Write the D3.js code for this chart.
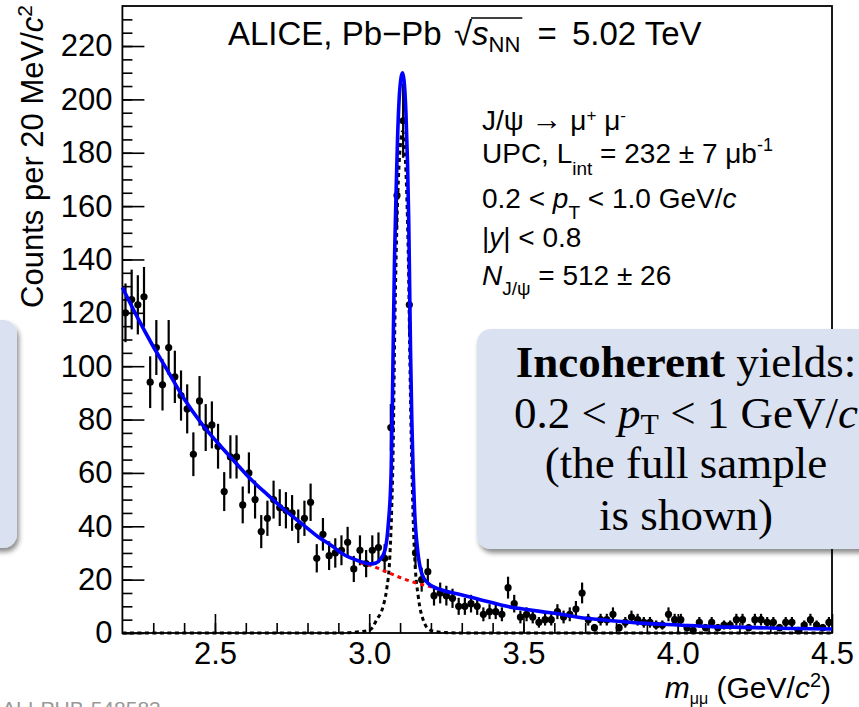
<!DOCTYPE html>
<html>
<head>
<meta charset="utf-8">
<script src="https://cdn.jsdelivr.net/npm/d3@7"></script>
<style>
  body { margin: 0; background: #fff; }
  svg { display: block; }
  text { white-space: pre; }
</style>
</head>
<body>
<div id="chart"></div>
<script>
// bin centres of the 20 MeV/c^2 histogram
const massBins = [
    2.21, 2.23, 2.25, 2.27, 2.29, 2.31, 2.33, 2.35, 2.37, 2.39,
    2.41, 2.43, 2.45, 2.47, 2.49, 2.51, 2.53, 2.55, 2.57, 2.59,
    2.61, 2.63, 2.65, 2.67, 2.69, 2.71, 2.73, 2.75, 2.77, 2.79,
    2.81, 2.83, 2.85, 2.87, 2.89, 2.91, 2.93, 2.95, 2.97, 2.99,
    3.01, 3.03, 3.05, 3.07, 3.09, 3.11, 3.13, 3.15, 3.17, 3.19,
    3.21, 3.23, 3.25, 3.27, 3.29, 3.31, 3.33, 3.35, 3.37, 3.39,
    3.41, 3.43, 3.45, 3.47, 3.49, 3.51, 3.53, 3.55, 3.57, 3.59,
    3.61, 3.63, 3.65, 3.67, 3.69, 3.71, 3.73, 3.75, 3.77, 3.79,
    3.81, 3.83, 3.85, 3.87, 3.89, 3.91, 3.93, 3.95, 3.97, 3.99,
    4.01, 4.03, 4.05, 4.07, 4.09, 4.11, 4.13, 4.15, 4.17, 4.19,
    4.21, 4.23, 4.25, 4.27, 4.29, 4.31, 4.33, 4.35, 4.37, 4.39,
    4.41, 4.43, 4.45, 4.47, 4.49
];

const counts = [
    120, 125, 123, 126, 94, 107, 93, 107, 96, 89,
    84, 67, 87, 77, 78, 70, 53, 66, 66, 48,
    60, 50, 38, 43, 50, 47, 46, 45, 40, 43,
    49, 28, 37, 29, 30, 31, 34, 24, 31, 26,
    31, 32, 28, 77, 164, 192, 123, 30, 20, 23,
    14, 15, 14, 13, 10, 10, 11, 10, 7, 8,
    8, 7, 17, 11, 6, 7, 6, 4, 5, 5,
    8, 6, 7, 9, 15, 5, 2, 5, 5, 7,
    2, 4, 6, 5, 4, 4, 3, 3, 7, 5,
    5, 2, 1, 4, 2, 4, 2, 3, 3, 5,
    5, 2, 5, 5, 4, 4, 2, 4, 4, 1,
    3, 5, 3, 2, 4
];

const countErrors = [
    11.0, 11.2, 11.1, 11.2, 9.7, 10.3, 9.6, 10.3, 9.8, 9.4,
    9.2, 8.2, 9.3, 8.8, 8.8, 8.4, 7.3, 8.1, 8.1, 6.9,
    7.7, 7.1, 6.2, 6.6, 7.1, 6.9, 6.8, 6.7, 6.3, 6.6,
    7.0, 5.3, 6.1, 5.4, 5.5, 5.6, 5.8, 4.9, 5.6, 5.1,
    5.6, 5.7, 5.3, 8.8, 12.8, 13.9, 11.1, 5.5, 4.5, 4.8,
    3.7, 3.9, 3.7, 3.6, 3.2, 3.2, 3.3, 3.2, 2.6, 2.8,
    2.8, 2.6, 4.1, 3.3, 2.4, 2.6, 2.4, 2.0, 2.2, 2.2,
    2.8, 2.4, 2.6, 3.0, 3.9, 2.2, 1.4, 2.2, 2.2, 2.6,
    1.4, 2.0, 2.4, 2.2, 2.0, 2.0, 1.7, 1.7, 2.6, 2.2,
    2.2, 1.4, 1.0, 2.0, 1.4, 2.0, 1.4, 1.7, 1.7, 2.2,
    2.2, 1.4, 2.2, 2.2, 2.0, 2.0, 1.4, 2.0, 2.0, 1.0,
    1.7, 2.2, 1.7, 1.4, 2.0
];

// fit curves: [mass, counts]
const fitTotal = [
    [2.20, 129.5], [2.25, 118], [2.294, 108.6], [2.348, 98], [2.402, 87.4],
    [2.456, 78.6], [2.51, 71.1], [2.564, 64.2], [2.618, 57.4], [2.672, 51.7],
    [2.726, 46.1], [2.78, 41.1], [2.834, 36.1], [2.882, 32.4], [2.911, 29.9],
    [2.964, 27.1], [3.005, 25.9], [3.022, 26.2], [3.035, 27.5], [3.051, 31],
    [3.062, 41], [3.071, 60], [3.075, 85], [3.078, 110], [3.082, 140],
    [3.087, 165], [3.092, 186], [3.097, 200], [3.103, 208], [3.108, 210],
    [3.113, 207], [3.119, 195], [3.124, 177], [3.128, 155], [3.131, 130],
    [3.134, 105], [3.138, 80], [3.142, 62], [3.147, 46], [3.157, 31],
    [3.170, 22.4], [3.191, 18.6], [3.235, 16.1], [3.288, 14.6], [3.343, 13],
    [3.397, 11.4], [3.45, 9.9], [3.505, 8.9], [3.559, 8], [3.613, 7.2],
    [3.677, 5.9], [3.786, 4.6], [3.893, 3.6], [4.001, 3.0], [4.11, 2.4],
    [4.217, 2.1], [4.325, 1.8], [4.5, 1.5]
];

const fitSignal = [
    [2.20, 0], [2.90, 0], [2.96, 0.4], [3.002, 1.1], [3.024, 4.9],
    [3.045, 10], [3.056, 16], [3.067, 29], [3.073, 47], [3.078, 72],
    [3.082, 108], [3.087, 140], [3.092, 162], [3.097, 176], [3.103, 185],
    [3.108, 188], [3.113, 185], [3.119, 173], [3.124, 155], [3.128, 133],
    [3.131, 108], [3.135, 80], [3.139, 58], [3.143, 41], [3.148, 27],
    [3.159, 13.6], [3.175, 4.9], [3.197, 1.1], [3.23, 0.3], [3.30, 0],
    [4.50, 0]
];

const fitBackground = [
    [2.97, 26.3], [3.0, 25.5], [3.05, 23.2], [3.1, 20.8], [3.15, 18.8],
    [3.2, 17.3], [3.235, 16.2]
];

const yMajorTicks = [0, 20, 40, 60, 80, 100, 120, 140, 160, 180, 200, 220];
const xMajorTicks = [2.5, 3.0, 3.5, 4.0, 4.5];

const infoLines = [
    [{t: 'J/ψ '}, {t: '→', size: 31}, {t: ' μ'}, {t: '+', dy: -9, size: 17}, {t: ' μ'}, {t: '-', dy: -9, size: 17}],
    [{t: 'UPC, L'}, {t: 'int', dy: 12, size: 19}, {t: ' = 232 ± 7 μb'}, {t: '-1', dy: -12, size: 18}],
    [{t: '0.2 < '}, {t: 'p', it: true}, {t: 'T', dy: 11, size: 19}, {t: ' < 1.0 GeV/'}, {t: 'c', it: true}],
    [{t: '|'}, {t: 'y', it: true}, {t: '| < 0.8'}],
    [{t: 'N', it: true}, {t: 'J/ψ', dy: 10, size: 19}, {t: ' = 512 ± 26'}]
];
const infoBaselines = [130, 163, 208, 246.5, 285];

const boxLines = [
    [{t: 'Incoherent', b: true}, {t: ' yields:'}],
    [{t: '0.2 < '}, {t: 'p', it: true}, {t: 'T', dy: 6, size: 30}, {t: ' < 1 GeV/'}, {t: 'c', it: true}],
    [{t: '(the full sample'}],
    [{t: 'is shown)'}]
];
const boxBaselines = [377, 428, 478, 530];

const W = 859, H = 707;
const plot = {left: 122.4, right: 832, top: 6, bottom: 633};
const SANS = 'Liberation Sans, Arial, Helvetica, sans-serif';
const SERIF = 'Liberation Serif, Times New Roman, serif';

const svg = d3.select('#chart').append('svg')
    .attr('width', W)
    .attr('height', H);

const xScale = d3.scaleLinear().domain([2.2, 4.5]).range([plot.left, plot.right]);
const yScale = d3.scaleLinear().domain([0, 235]).range([plot.bottom, plot.top]);

// text with sub/superscript pieces
function richText(parent, parts, opts) {
    const text = parent.append('text')
        .attr('x', opts.x)
        .attr('y', opts.y)
        .attr('font-family', opts.font)
        .attr('font-size', opts.size)
        .attr('text-anchor', opts.anchor || 'start')
        .attr('fill', opts.fill || '#000');
    if (opts.transform) text.attr('transform', opts.transform);
    let shift = 0;
    parts.forEach(function (p) {
        const target = p.dy || 0;
        const span = text.append('tspan').attr('dy', target - shift).text(p.t);
        shift = target;
        if (p.dx) span.attr('dx', p.dx);
        if (p.size) span.attr('font-size', p.size);
        if (p.it) span.attr('font-style', 'italic');
        if (p.b) span.attr('font-weight', 'bold');
    });
    return text;
}

const defs = svg.append('defs');
const shadow = defs.append('filter').attr('id', 'shadow')
    .attr('x', '-10%').attr('y', '-10%').attr('width', '130%').attr('height', '130%');
shadow.append('feDropShadow')
    .attr('dx', 2).attr('dy', 4).attr('stdDeviation', 2.5)
    .attr('flood-color', '#000').attr('flood-opacity', 0.45);

// frame
svg.append('rect')
    .attr('x', plot.left).attr('y', plot.top)
    .attr('width', plot.right - plot.left).attr('height', plot.bottom - plot.top)
    .attr('fill', 'none').attr('stroke', '#000').attr('stroke-width', 1.8);

// axes
const yAxis = d3.axisLeft(yScale).tickValues(yMajorTicks).tickSize(-22).tickPadding(10);
const yMinor = d3.axisLeft(yScale).tickValues(d3.range(0, 235, 5)).tickSize(-10).tickFormat('');
const xAxis = d3.axisBottom(xScale).tickValues(xMajorTicks).tickSize(-19).tickPadding(9)
    .tickFormat(d3.format('.1f'));
const xMinor = d3.axisBottom(xScale).tickValues(d3.range(2.3, 4.45, 0.1)).tickSize(-10).tickFormat('');

// d3 sets font-size 10 on the group itself, so override afterwards
function styleAxis(g) {
    g.attr('font-family', SANS).attr('font-size', 31);
    g.select('.domain').remove();
    g.selectAll('.tick line').attr('stroke', '#000').attr('stroke-width', 1.6);
    g.selectAll('.tick text').attr('fill', '#000');
}

svg.append('g').attr('transform', 'translate(' + plot.left + ',0)')
    .call(yMinor).call(styleAxis);
svg.append('g').attr('transform', 'translate(' + plot.left + ',0)')
    .call(yAxis).call(styleAxis);
svg.append('g').attr('transform', 'translate(0,' + plot.bottom + ')')
    .call(xMinor).call(styleAxis);
svg.append('g').attr('transform', 'translate(0,' + plot.bottom + ')')
    .call(xAxis).call(styleAxis);

// axis titles
richText(svg, [{t: 'Counts per 20 MeV/'}, {t: 'c', it: true}, {t: '2', dy: -11, size: 21}], {
    x: 0, y: 0, font: SANS, size: 31, anchor: 'end',
    transform: 'translate(43,5) rotate(-90)'
});
richText(svg, [{t: 'm', it: true}, {t: 'μμ', dy: 6, size: 16}, {t: ' (GeV/'}, {t: 'c', it: true},
    {t: '2', dy: -11, size: 20}, {t: ')'}], {
    x: 831, y: 698, font: SANS, size: 30, anchor: 'end'
});

// data points
const points = svg.append('g').attr('class', 'points');
massBins.forEach(function (m, i) {
    points.append('line')
        .attr('x1', xScale(m)).attr('x2', xScale(m))
        .attr('y1', yScale(counts[i] - countErrors[i]))
        .attr('y2', yScale(counts[i] + countErrors[i]))
        .attr('stroke', '#000').attr('stroke-width', 2.2);
    points.append('circle')
        .attr('cx', xScale(m)).attr('cy', yScale(counts[i]))
        .attr('r', 3.6).attr('fill', '#000');
});

// fit curves
const line = d3.line()
    .x(function (d) { return xScale(d[0]); })
    .y(function (d) { return yScale(d[1]); })
    .curve(d3.curveMonotoneX);

svg.append('path').datum(fitSignal).attr('d', line)
    .attr('fill', 'none').attr('stroke', '#000').attr('stroke-width', 3)
    .attr('stroke-dasharray', '4,3.5');
svg.append('path').datum(fitBackground).attr('d', line)
    .attr('fill', 'none').attr('stroke', '#ff0000').attr('stroke-width', 3)
    .attr('stroke-dasharray', '4,4');
svg.append('path').datum(fitTotal).attr('d', line)
    .attr('fill', 'none').attr('stroke', '#0000ff').attr('stroke-width', 3.6)
    .attr('stroke-linejoin', 'round');

// header
const header = richText(svg, [{t: 'ALICE, Pb−Pb '}, {t: '√', dx: 3}, {t: 's', it: true},
    {t: 'NN', dy: 7, size: 22}, {t: ' =', dx: 8}, {t: ' 5.02 TeV', dx: 6}], {
    x: 228, y: 45, font: SANS, size: 33
});
const hNode = header.node();
const rootEnd = hNode.getEndPositionOfChar(13).x;
const nnEnd = hNode.getEndPositionOfChar(16).x;
svg.append('line')
    .attr('x1', rootEnd - 1).attr('x2', nnEnd + 2)
    .attr('y1', 18).attr('y2', 18)
    .attr('stroke', '#000').attr('stroke-width', 1.5);

// info text
infoLines.forEach(function (parts, i) {
    richText(svg, parts, {x: 482, y: infoBaselines[i], font: SANS, size: 28});
});

// callout boxes
svg.append('rect')
    .attr('x', -400).attr('y', 320).attr('width', 417).attr('height', 228)
    .attr('rx', 14).attr('fill', '#dae2f2').attr('filter', 'url(#shadow)');
svg.append('rect')
    .attr('x', 477).attr('y', 329).attr('width', 418).attr('height', 220)
    .attr('rx', 14).attr('fill', '#dae2f2').attr('filter', 'url(#shadow)');
boxLines.forEach(function (parts, i) {
    richText(svg, parts, {x: 686, y: boxBaselines[i], font: SERIF, size: 45, anchor: 'middle'});
});

// figure id, mostly below the bottom edge as in the original
svg.append('text')
    .attr('x', 2).attr('y', 716)
    .attr('font-family', SANS).attr('font-size', 21)
    .attr('fill', '#999')
    .text('ALI-PUB-548583');
</script>
</body>
</html>
